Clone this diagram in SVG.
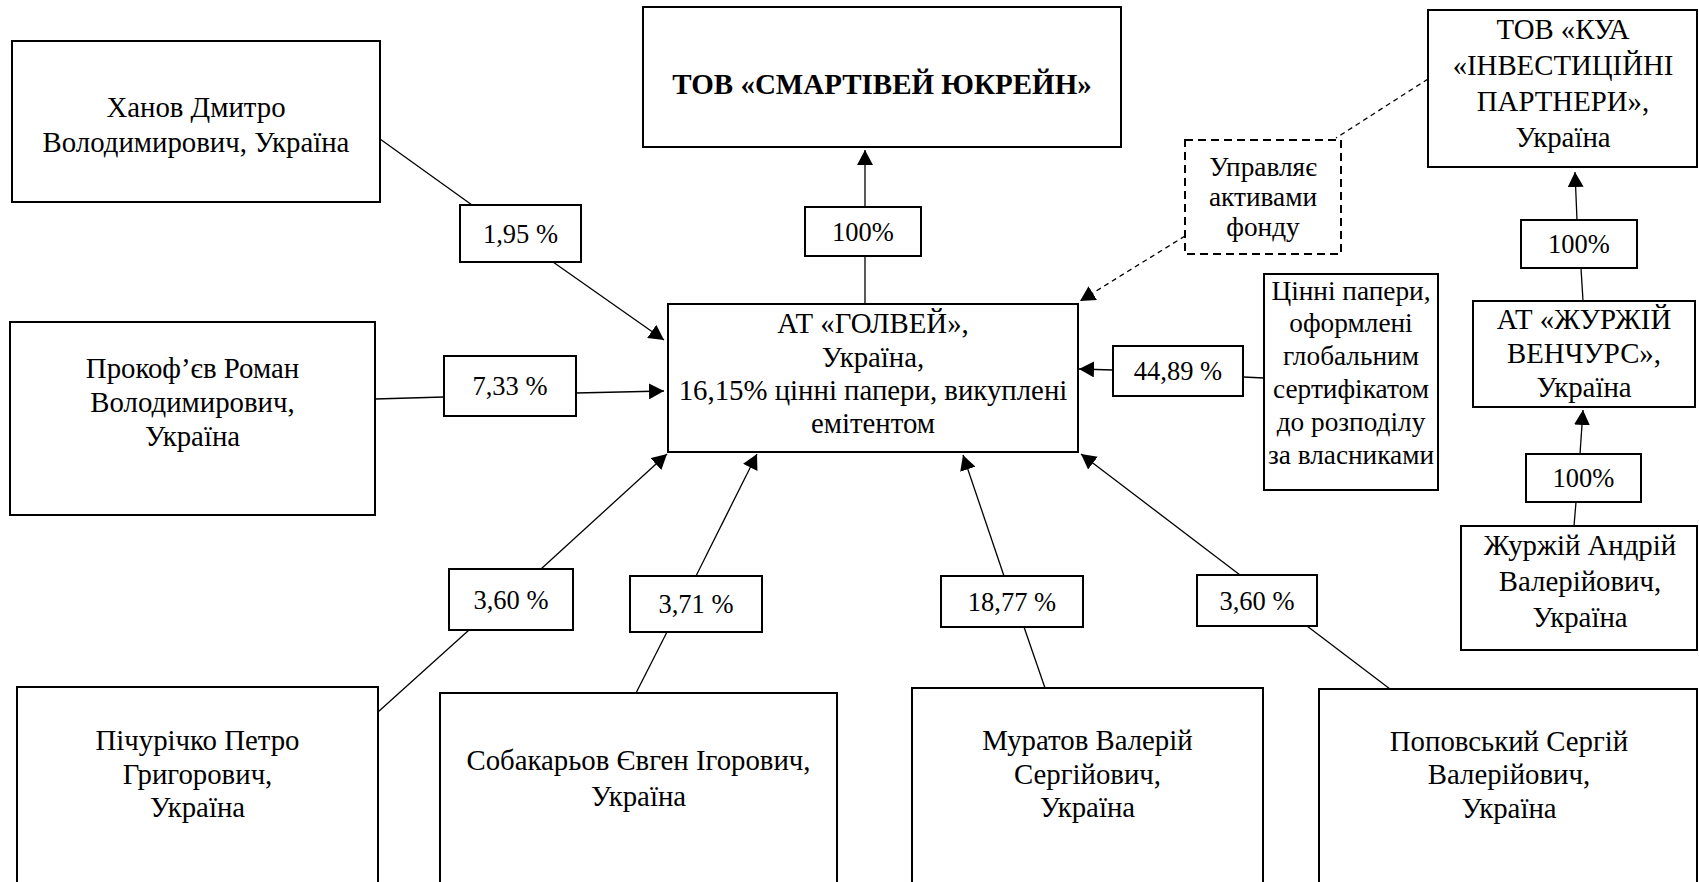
<svg xmlns="http://www.w3.org/2000/svg" width="1699" height="882" viewBox="0 0 1699 882">
<style>
.box{fill:#fff;stroke:#000;stroke-width:2}
.dbox{fill:#fff;stroke:#000;stroke-width:2;stroke-dasharray:8 5}
.ln{stroke:#000;stroke-width:1.3;fill:none}
.dln{stroke:#000;stroke-width:1.3;fill:none;stroke-dasharray:5 4}
text{font-family:"Liberation Serif","Times New Roman",serif;fill:#000;text-anchor:middle}
.t{font-size:28.8px}
.s{font-size:27.3px}
.p{font-size:26.5px}
.b{font-size:29px;font-weight:bold}
</style>
<defs>
<marker id="arr" viewBox="0 0 15 16" refX="15" refY="8" markerWidth="15" markerHeight="16" orient="auto" markerUnits="userSpaceOnUse">
<path d="M0,0 L15,8 L0,16 z" fill="#000"/>
</marker>
</defs>
<rect width="1699" height="882" fill="#fff"/>

<g id="connectors">
<line class="ln" x1="380" y1="139" x2="472" y2="205"/>
<line class="ln" x1="553" y1="262" x2="664" y2="340" marker-end="url(#arr)"/>
<line class="ln" x1="865" y1="304" x2="865" y2="256"/>
<line class="ln" x1="865" y1="207" x2="865" y2="150" marker-end="url(#arr)"/>
<line class="ln" x1="375" y1="399" x2="444" y2="397"/>
<line class="ln" x1="576" y1="393" x2="664" y2="391" marker-end="url(#arr)"/>
<line class="ln" x1="378" y1="712" x2="469" y2="630"/>
<line class="ln" x1="541" y1="569" x2="667" y2="454" marker-end="url(#arr)"/>
<line class="ln" x1="636" y1="693" x2="667" y2="632"/>
<line class="ln" x1="696" y1="576" x2="757" y2="454" marker-end="url(#arr)"/>
<line class="ln" x1="1045" y1="688" x2="1024" y2="627"/>
<line class="ln" x1="1004" y1="576" x2="963" y2="455" marker-end="url(#arr)"/>
<line class="ln" x1="1390" y1="689" x2="1307" y2="626"/>
<line class="ln" x1="1240" y1="575" x2="1081" y2="454" marker-end="url(#arr)"/>
<line class="ln" x1="1264" y1="378" x2="1243" y2="377"/>
<line class="ln" x1="1113" y1="370" x2="1079" y2="369" marker-end="url(#arr)"/>
<line class="dln" x1="1428" y1="79" x2="1336" y2="138"/>
<line class="dln" x1="1185" y1="236" x2="1080" y2="301" marker-end="url(#arr)"/>
<line class="ln" x1="1583" y1="301" x2="1581" y2="268"/>
<line class="ln" x1="1577" y1="220" x2="1575" y2="172" marker-end="url(#arr)"/>
<line class="ln" x1="1574" y1="526" x2="1576" y2="502"/>
<line class="ln" x1="1580" y1="454" x2="1583" y2="410" marker-end="url(#arr)"/>
</g>

<g id="lbl-khanov"><rect class="box" x="460" y="205" width="121" height="57"/><text class="p" x="520.5" y="243">1,95 %</text></g>
<g id="lbl-smart"><rect class="box" x="805" y="207" width="116" height="49"/><text class="p" x="863" y="241">100%</text></g>
<g id="lbl-prokofiev"><rect class="box" x="444" y="356" width="132" height="60"/><text class="p" x="510" y="395">7,33 %</text></g>
<g id="lbl-pichurichko"><rect class="box" x="449" y="569" width="124" height="61"/><text class="p" x="511" y="609">3,60 %</text></g>
<g id="lbl-sobakarjov"><rect class="box" x="630" y="576" width="132" height="56"/><text class="p" x="696" y="613">3,71 %</text></g>
<g id="lbl-muratov"><rect class="box" x="941" y="576" width="142" height="51"/><text class="p" x="1012" y="611">18,77 %</text></g>
<g id="lbl-popovsky"><rect class="box" x="1197" y="575" width="120" height="51"/><text class="p" x="1257" y="610">3,60 %</text></g>
<g id="lbl-cert"><rect class="box" x="1113" y="346" width="130" height="50"/><text class="p" x="1178" y="380">44,89 %</text></g>
<g id="lbl-kua"><rect class="box" x="1521" y="220" width="116" height="48"/><text class="p" x="1579" y="253">100%</text></g>
<g id="lbl-ventures"><rect class="box" x="1526" y="454" width="115" height="48"/><text class="p" x="1583.5" y="487">100%</text></g>

<g id="khanov"><rect class="box" x="12" y="41" width="368" height="161"/>
<text class="t" x="196" y="117">Ханов Дмитро</text><text class="t" x="196" y="152">Володимирович, Україна</text></g>

<g id="smartivei"><rect class="box" x="643" y="7" width="478" height="140"/>
<text class="b" x="882" y="94">ТОВ «СМАРТІВЕЙ ЮКРЕЙН»</text></g>

<g id="prokofiev"><rect class="box" x="10" y="322" width="365" height="193"/>
<text class="t" x="192.5" y="378">Прокоф’єв Роман</text><text class="t" x="192.5" y="412">Володимирович,</text><text class="t" x="192.5" y="446">Україна</text></g>

<g id="golvey"><rect class="box" x="668" y="304" width="410" height="148"/>
<text class="t" x="873" y="333">АТ «ГОЛВЕЙ»,</text><text class="t" x="873" y="367">Україна,</text><text class="t" x="873" y="400">16,15% цінні папери, викуплені</text><text class="t" x="873" y="433">емітентом</text></g>

<g id="kua"><rect class="box" x="1428" y="10" width="269" height="157"/>
<text class="t" x="1563" y="39">ТОВ «КУА</text><text class="t" x="1563" y="75">«ІНВЕСТИЦІЙНІ</text><text class="t" x="1563" y="111">ПАРТНЕРИ»,</text><text class="t" x="1563" y="147">Україна</text></g>

<g id="manages"><rect class="dbox" x="1185" y="140" width="156" height="114"/>
<text class="s" x="1263" y="176">Управляє</text><text class="s" x="1263" y="206">активами</text><text class="s" x="1263" y="236">фонду</text></g>

<g id="certificate"><rect class="box" x="1264" y="274" width="174" height="216"/>
<text class="s" x="1351" y="300">Цінні папери,</text><text class="s" x="1351" y="332">оформлені</text><text class="s" x="1351" y="365">глобальним</text><text class="s" x="1351" y="398">сертифікатом</text><text class="s" x="1351" y="431">до розподілу</text><text class="s" x="1351" y="464">за власниками</text></g>

<g id="ventures"><rect class="box" x="1473" y="301" width="222" height="106"/>
<text class="t" x="1584" y="329">АТ «ЖУРЖІЙ</text><text class="t" x="1584" y="363">ВЕНЧУРС»,</text><text class="t" x="1584" y="397">Україна</text></g>

<g id="zhurzhii"><rect class="box" x="1461" y="526" width="236" height="124"/>
<text class="t" x="1580" y="555">Журжій Андрій</text><text class="t" x="1580" y="591">Валерійович,</text><text class="t" x="1580" y="627">Україна</text></g>

<g id="pichurichko"><rect class="box" x="17" y="687" width="361" height="200"/>
<text class="t" x="197.5" y="750">Пічурічко Петро</text><text class="t" x="197.5" y="784">Григорович,</text><text class="t" x="197.5" y="817">Україна</text></g>

<g id="sobakarjov"><rect class="box" x="440" y="693" width="397" height="194"/>
<text class="t" x="638.5" y="770">Собакарьов Євген Ігорович,</text><text class="t" x="638.5" y="806">Україна</text></g>

<g id="muratov"><rect class="box" x="912" y="688" width="351" height="199"/>
<text class="t" x="1087.5" y="750">Муратов Валерій</text><text class="t" x="1087.5" y="784">Сергійович,</text><text class="t" x="1087.5" y="817">Україна</text></g>

<g id="popovsky"><rect class="box" x="1319" y="689" width="378" height="198"/>
<text class="t" x="1509" y="751">Поповський Сергій</text><text class="t" x="1509" y="784">Валерійович,</text><text class="t" x="1509" y="818">Україна</text></g>
</svg>
